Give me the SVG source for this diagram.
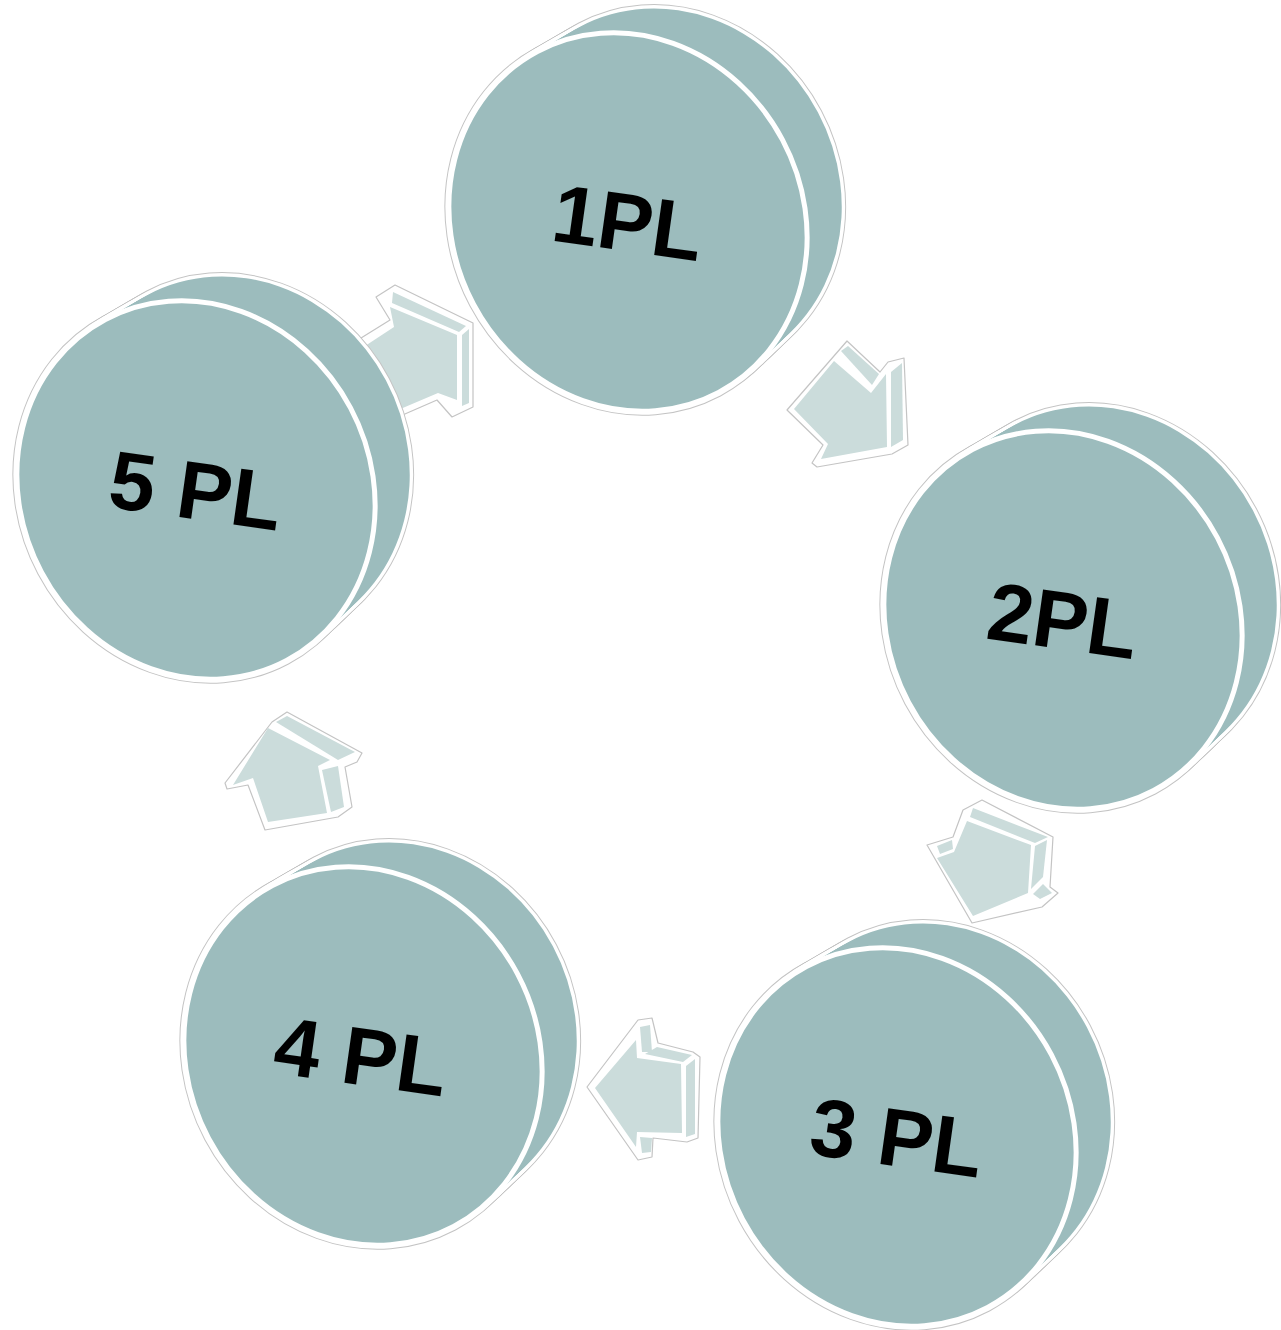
<svg xmlns="http://www.w3.org/2000/svg" xmlns:xlink="http://www.w3.org/1999/xlink" width="1281" height="1330" viewBox="0 0 1281 1330">
<style>
.og{fill:none;stroke:#c4c4c4;stroke-width:9}
.ow{fill:none;stroke:#ffffff;stroke-width:7}
.bf{fill:#9cbcbd;stroke:none}
.front{fill:#9cbcbd;stroke:#ffffff;stroke-width:5}
.lbl{font-family:"Liberation Sans",Arial,sans-serif;font-weight:bold;font-size:82px;fill:#000;text-anchor:middle}
.asil{fill:#ffffff;stroke:#c4c4c4;stroke-width:1.2;stroke-linejoin:round}
.af{fill:#cbdcdb;stroke:none}
</style>
<defs>
<ellipse id="e" cx="0" cy="0" rx="193" ry="175" transform="rotate(62)"/>
<g id="body">
<use xlink:href="#e" href="#e" transform="translate(0,0)"/>
<use xlink:href="#e" href="#e" transform="translate(4,-3) scale(0.997)"/>
<use xlink:href="#e" href="#e" transform="translate(8,-6) scale(0.994)"/>
<use xlink:href="#e" href="#e" transform="translate(12,-9) scale(0.991)"/>
<use xlink:href="#e" href="#e" transform="translate(16,-12) scale(0.988)"/>
<use xlink:href="#e" href="#e" transform="translate(20,-15) scale(0.985)"/>
<use xlink:href="#e" href="#e" transform="translate(24,-18) scale(0.982)"/>
<use xlink:href="#e" href="#e" transform="translate(28,-21) scale(0.979)"/>
<use xlink:href="#e" href="#e" transform="translate(32,-24) scale(0.976)"/>
<use xlink:href="#e" href="#e" transform="translate(36,-27) scale(0.973)"/>
<use xlink:href="#e" href="#e" transform="translate(40,-30) scale(0.97)"/>
</g>
</defs>
<rect width="1281" height="1330" fill="#ffffff"/>
<g id="connectors">
<g id="arrow-5-1">
<polygon class="asil" points="353,343 390,320 376,297 395,285 473,323 473,407 452,417 437,400 398,417 340,390"/>
<polygon class="af" points="362,348 394,327 390,307 457,335 457,400 438,393 398,410 345,385"/>
<polygon class="af" points="393,292 466,326 459,332 392,303"/>
<polygon class="af" points="462,335 469,329 469,403 462,406"/>
</g>
<g id="arrow-1-2">
<polygon class="asil" points="847,341 880,372 888,362 904,358 908,445 892,454 817,467 812,463 823,445 787,410"/>
<polygon class="af" points="794,409 834,361 871,393 886,374 887,447 821,459 828,444"/>
<polygon class="af" points="841,351 848,346 879,374 872,385"/>
<polygon class="af" points="891,372 902,363 903,440 891,447"/>
</g>
<g id="arrow-2-3">
<polygon class="asil" points="963,810 982,800 1053,837 1050,887 1058,893 1042,907 972,923 927,845 953,837"/>
<polygon class="af" points="967,821 1031,845 1028,893 973,916 937,858 954,852"/>
<polygon class="af" points="973,808 1048,837 1035,843 970,817"/>
<polygon class="af" points="1035,846 1047,840 1043,877 1031,889"/>
<polygon class="af" points="1033,894 1043,884 1052,893 1040,899"/>
<polygon class="af" points="937,846 952,840 953,849 940,854"/>
</g>
<g id="arrow-3-4">
<polygon class="asil" points="587,1087 638,1020 652,1018 658,1043 693,1052 700,1057 698,1138 687,1142 653,1138 652,1157 638,1160"/>
<polygon class="af" points="595,1088 636,1040 637,1058 681,1064 682,1133 637,1132 636,1147"/>
<polygon class="af" points="640,1027 650,1025 652,1052 642,1052"/>
<polygon class="af" points="645,1054 657,1047 692,1055 683,1062"/>
<polygon class="af" points="686,1066 695,1059 695,1134 686,1137"/>
<polygon class="af" points="640,1137 652,1138 651,1152 642,1153"/>
</g>
<g id="arrow-4-5">
<polygon class="asil" points="287,712 362,753 357,762 345,767 352,807 338,817 265,830 248,785 227,789 225,783 272,722"/>
<polygon class="af" points="233,785 268,728 330,760 318,766 327,813 268,822 253,778"/>
<polygon class="af" points="276,722 287,716 355,752 338,760"/>
<polygon class="af" points="322,770 338,766 344,807 331,812"/>
</g>
</g>
<g id="node-1pl" transform="translate(628,222)">
<use href="#body" xlink:href="#body" class="og"/>
<use href="#body" xlink:href="#body" class="ow"/>
<use href="#body" xlink:href="#body" class="bf"/>
<use href="#e" xlink:href="#e" class="front"/>
<text class="lbl" x="0" y="29" transform="rotate(8)">1PL</text>
</g>
<g id="node-2pl" transform="translate(1063,620)">
<use href="#body" xlink:href="#body" class="og"/>
<use href="#body" xlink:href="#body" class="ow"/>
<use href="#body" xlink:href="#body" class="bf"/>
<use href="#e" xlink:href="#e" class="front"/>
<text class="lbl" x="0" y="29" transform="rotate(8)">2PL</text>
</g>
<g id="node-3pl" transform="translate(897,1137)">
<use href="#body" xlink:href="#body" class="og"/>
<use href="#body" xlink:href="#body" class="ow"/>
<use href="#body" xlink:href="#body" class="bf"/>
<use href="#e" xlink:href="#e" class="front"/>
<text class="lbl" x="0" y="29" transform="rotate(8)">3 PL</text>
</g>
<g id="node-4pl" transform="translate(363,1056)">
<use href="#body" xlink:href="#body" class="og"/>
<use href="#body" xlink:href="#body" class="ow"/>
<use href="#body" xlink:href="#body" class="bf"/>
<use href="#e" xlink:href="#e" class="front"/>
<text class="lbl" x="-2" y="29" transform="rotate(8)">4 PL</text>
</g>
<g id="node-5pl" transform="translate(196,490)">
<use href="#body" xlink:href="#body" class="og"/>
<use href="#body" xlink:href="#body" class="ow"/>
<use href="#body" xlink:href="#body" class="bf"/>
<use href="#e" xlink:href="#e" class="front"/>
<text class="lbl" x="0" y="29" transform="rotate(8)">5 PL</text>
</g>
</svg>
